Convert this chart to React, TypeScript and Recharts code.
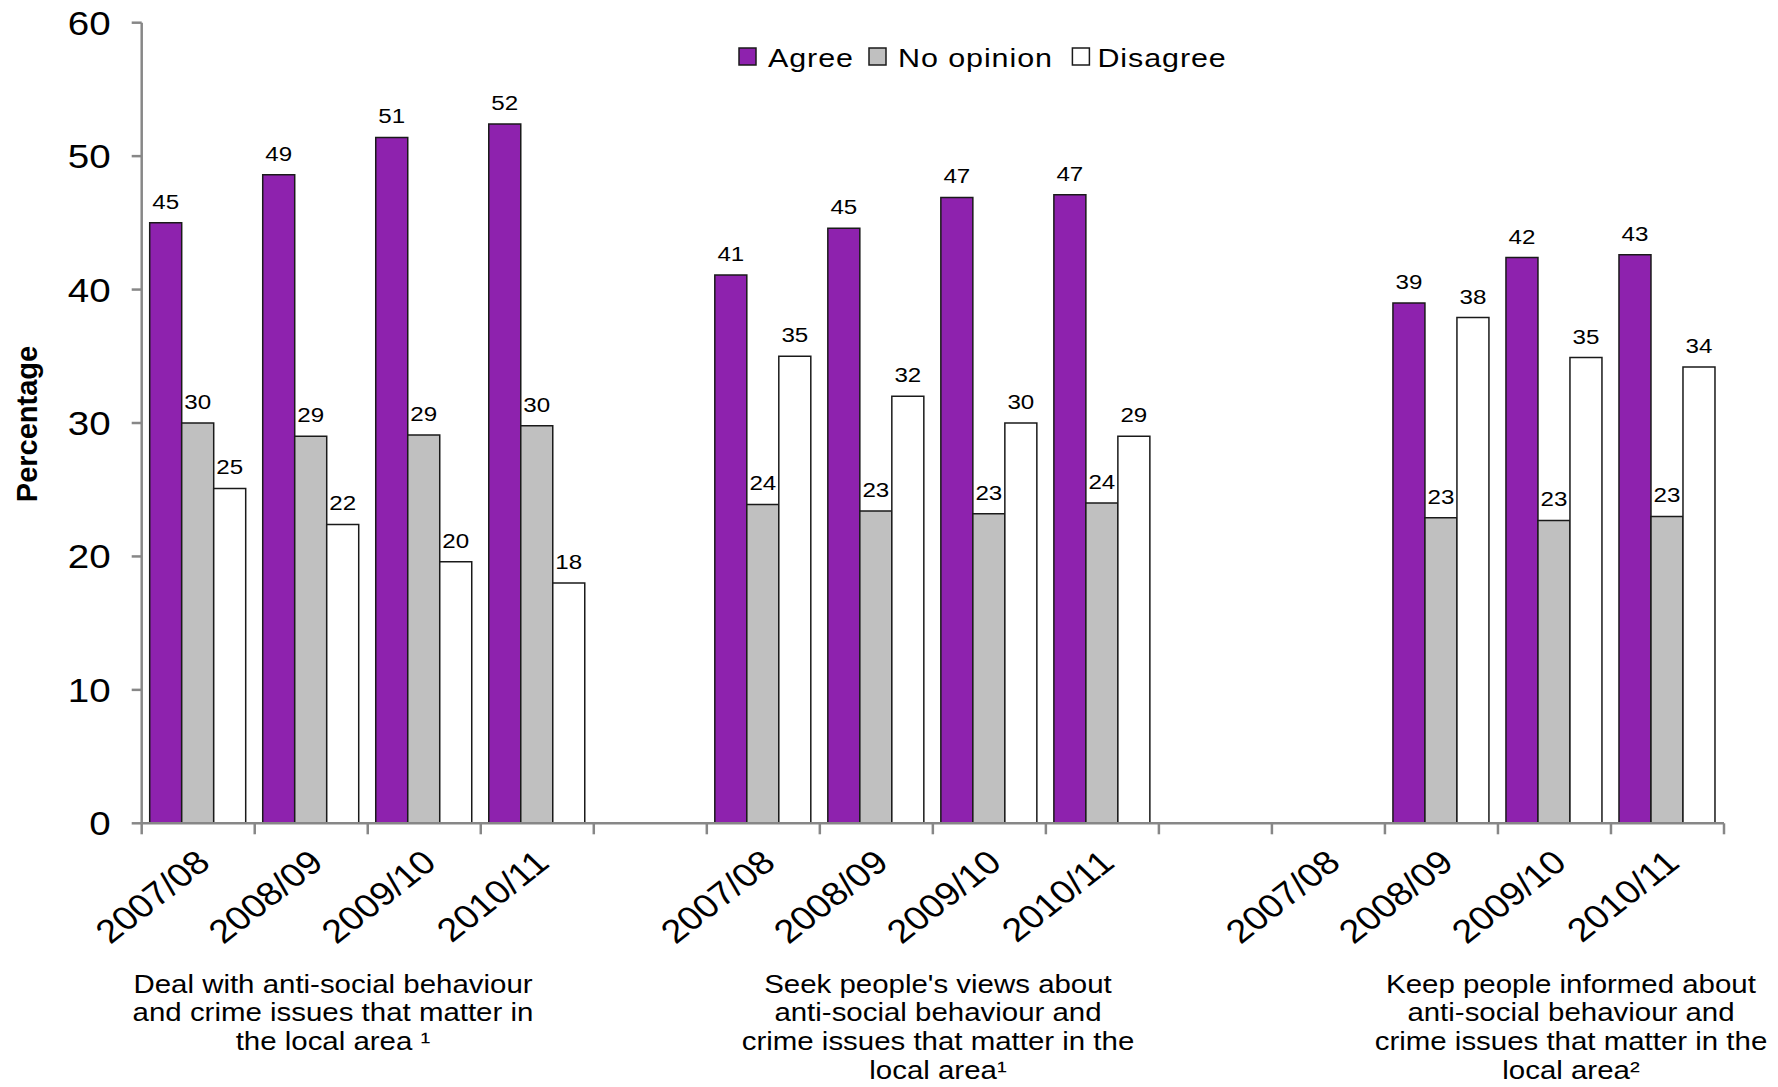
import { Bar, BarChart, LabelList, XAxis, YAxis } from "recharts";

const categories = [
  "2007/08", "2008/09", "2009/10", "2010/11", "",
  "2007/08", "2008/09", "2009/10", "2010/11", "",
  "2007/08", "2008/09", "2009/10", "2010/11"
];
const agree = [45.0, 48.6, 51.4, 52.4, null, 41.1, 44.6, 46.9, 47.1, null, null, 39.0, 42.4, 42.6];
const noOpinion = [30.0, 29.0, 29.1, 29.8, null, 23.9, 23.4, 23.2, 24.0, null, null, 22.9, 22.7, 23.0];
const disagree = [25.1, 22.4, 19.6, 18.0, null, 35.0, 32.0, 30.0, 29.0, null, null, 37.9, 34.9, 34.2];
const yTicks = [0, 10, 20, 30, 40, 50, 60];
const seriesNames = ["Agree", "No opinion", "Disagree"];
const groupLabels = [
  ["Deal with anti-social behaviour", "and crime issues that matter in", "the local area \u00b9"],
  ["Seek people's views about", "anti-social behaviour and", "crime issues that matter in the", "local area\u00b9"],
  ["Keep people informed about", "anti-social behaviour and", "crime issues that matter in the", "local area\u00b2"]
];

const data = categories.map((name, i) => ({
  name,
  agree: agree[i],
  noOpinion: noOpinion[i],
  disagree: disagree[i]
}));

const FONT = '"Liberation Sans", Arial, sans-serif';
const SX = 1.15; // source image is stretched sideways
const W = 1762;
const H = 1070;
const PAGE_H = 1079;
const PLOT_LEFT = 133.7;
const PLOT_RIGHT = 1716;
const PLOT_TOP = 14.7;
const PLOT_BOTTOM = 815.3;
const BAND = (PLOT_RIGHT - PLOT_LEFT) / categories.length;
const AXIS = "#878787";
const PURPLE = "#8E22AE";
const GREY = "#C0C0C0";
const EDGE = "#1a1a1a";

function YTick({ x, y, payload }: any) {
  return (
    <text
      transform={`translate(${x} ${y + 12}) scale(${SX} 1)`}
      textAnchor="end"
      fontSize={33.5}
      fontFamily={FONT}
      fill="#000"
    >
      {payload.value}
    </text>
  );
}

function XTick({ x, y, payload, index }: any) {
  const last = index === categories.length - 1;
  return (
    <g>
      <line x1={x - BAND / 2} x2={x - BAND / 2} y1={y} y2={y + 11} stroke={AXIS} strokeWidth={2.5} />
      {last && <line x1={x + BAND / 2} x2={x + BAND / 2} y1={y} y2={y + 11} stroke={AXIS} strokeWidth={2.5} />}
      {payload.value && (
        <text
          transform={`translate(${x + 14} ${y + 42}) scale(${SX} 1) rotate(-42)`}
          textAnchor="end"
          fontSize={33}
          fontFamily={FONT}
          fill="#000"
        >
          {payload.value}
        </text>
      )}
    </g>
  );
}

function ValueLabel({ x, y, width, value }: any) {
  if (value == null) return null;
  const cx = Number(x) + Number(width) / 2;
  return (
    <text
      transform={`translate(${cx} ${Number(y) - 14}) scale(${SX} 1)`}
      textAnchor="middle"
      fontSize={21}
      fontFamily={FONT}
      fill="#000"
    >
      {Math.round(Number(value))}
    </text>
  );
}

function Overlay() {
  const swatches = [
    { fill: PURPLE, box: 731, text: 760 },
    { fill: GREY, box: 861, text: 890 },
    { fill: "#fff", box: 1064.4, text: 1089.4 }
  ];
  const centers = [325, 930, 1563];
  return (
    <svg
      width={W}
      height={PAGE_H}
      style={{ position: "absolute", left: 0, top: 0, pointerEvents: "none" }}
    >
      {swatches.map((s, i) => (
        <g key={seriesNames[i]}>
          <rect x={s.box} y={40} width={17} height={17} fill={s.fill} stroke={EDGE} strokeWidth={1.5} />
          <text
            transform={`translate(${s.text} 58.7) scale(${SX} 1)`}
            fontSize={26.5}
            letterSpacing={0.8}
            fontFamily={FONT}
            fill="#000"
          >
            {seriesNames[i]}
          </text>
        </g>
      ))}
      <text
        transform="translate(28.7 416) rotate(-90)"
        textAnchor="middle"
        fontSize={29}
        fontWeight="bold"
        fontFamily={FONT}
        fill="#000"
      >
        Percentage
      </text>
      {groupLabels.map((lines, g) =>
        lines.map((line, k) => (
          <text
            key={`${g}-${k}`}
            transform={`translate(${centers[g]} ${984.5 + k * 28.9}) scale(${SX} 1)`}
            textAnchor="middle"
            fontSize={25.6}
            fontFamily={FONT}
            fill="#000"
          >
            {line}
          </text>
        ))
      )}
    </svg>
  );
}

export default function App() {
  return (
    <div style={{ position: "relative", width: W, height: PAGE_H, marginBottom: -8, background: "#fff" }}>
      <BarChart
        width={W}
        height={H}
        data={data}
        margin={{ top: PLOT_TOP, right: W - PLOT_RIGHT, left: 0, bottom: 0 }}
        barCategoryGap={8}
        barGap={0}
      >
        <XAxis
          dataKey="name"
          interval={0}
          height={H - PLOT_BOTTOM}
          tickLine={false}
          tickSize={0}
          tickMargin={0}
          axisLine={{ stroke: AXIS, strokeWidth: 2.5 }}
          tick={<XTick />}
        />
        <YAxis
          width={PLOT_LEFT}
          domain={[0, 60]}
          ticks={yTicks}
          interval={0}
          tickSize={10}
          tickMargin={21}
          axisLine={{ stroke: AXIS, strokeWidth: 2.5 }}
          tickLine={{ stroke: AXIS, strokeWidth: 2.5 }}
          tick={<YTick />}
        />
        <Bar dataKey="agree" name={seriesNames[0]} fill={PURPLE} stroke={EDGE} strokeWidth={1.5} isAnimationActive={false}>
          <LabelList dataKey="agree" content={(p: any) => <ValueLabel {...p} />} />
        </Bar>
        <Bar dataKey="noOpinion" name={seriesNames[1]} fill={GREY} stroke={EDGE} strokeWidth={1.5} isAnimationActive={false}>
          <LabelList dataKey="noOpinion" content={(p: any) => <ValueLabel {...p} />} />
        </Bar>
        <Bar dataKey="disagree" name={seriesNames[2]} fill="#fff" stroke={EDGE} strokeWidth={1.5} isAnimationActive={false}>
          <LabelList dataKey="disagree" content={(p: any) => <ValueLabel {...p} />} />
        </Bar>
      </BarChart>
      <Overlay />
    </div>
  );
}
